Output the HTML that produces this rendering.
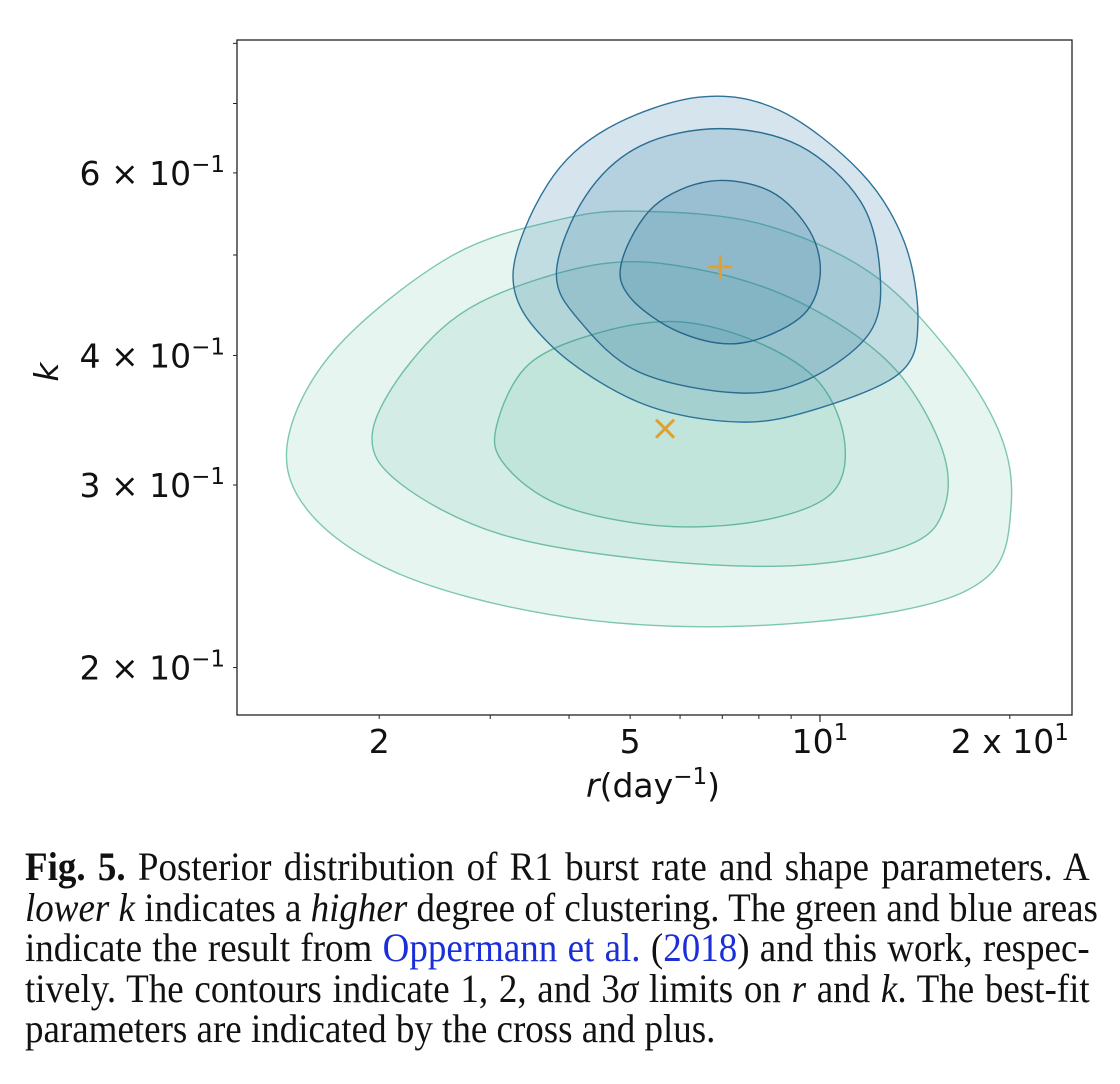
<!DOCTYPE html>
<html><head><meta charset="utf-8">
<style>
body{margin:0;background:#fff;width:1120px;height:1084px;overflow:hidden;}
#cap{position:absolute;left:25px;top:847px;width:1151px;font-family:"Liberation Serif",serif;font-size:40px;line-height:40.6px;color:#111;transform:scaleX(0.925);transform-origin:0 0;}
#cap div{text-align:justify;text-align-last:justify;white-space:nowrap;}
#cap div.last{text-align-last:left;}
.lnk{color:#1a2fd8;}
</style></head><body>
<svg id="chart" width="1120" height="815" style="position:absolute;left:0;top:0" font-family="DejaVu Sans, Liberation Sans, sans-serif"></svg>
<div id="cap">
<div><b>Fig. 5.</b> Posterior distribution of R1 burst rate and shape parameters. A</div>
<div><i>lower k</i> indicates a <i>higher</i> degree of clustering. The green and blue areas</div>
<div>indicate the result from <span class="lnk">Oppermann et al.</span> (<span class="lnk">2018</span>) and this work, respec-</div>
<div>tively. The contours indicate 1, 2, and 3<i>σ</i> limits on <i>r</i> and <i>k</i>. The best-fit</div>
<div class="last">parameters are indicated by the cross and plus.</div>
</div>
<script>
const greenOuter=[[1.43,0.329],[1.70,0.405],[2.59,0.498],[3.87,0.541],[5.19,0.551],[8.03,0.536],[12.0,0.481],[16.1,0.402],[19.3,0.336],[20.1,0.287],[18.6,0.246],[13.4,0.227],[6.95,0.219],[3.73,0.225],[2.16,0.246],[1.56,0.281]];
const greenMid=[[1.95,0.336],[2.25,0.395],[2.89,0.450],[4.48,0.490],[6.45,0.484],[9.30,0.450],[12.9,0.393],[15.5,0.329],[15.8,0.287],[13.9,0.263],[9.30,0.251],[5.38,0.254],[3.11,0.269],[2.16,0.301]];
const greenInner=[[3.07,0.342],[3.45,0.392],[4.48,0.421],[6.00,0.431],[8.03,0.411],[10.0,0.376],[10.95,0.329],[10.4,0.294],[8.03,0.277],[5.57,0.274],[3.87,0.287],[3.16,0.314]];
const blueOuter=[[3.26,0.476],[3.70,0.585],[4.60,0.662],[6.45,0.710],[8.64,0.689],[11.6,0.601],[13.6,0.515],[14.3,0.431],[13.4,0.385],[10.0,0.356],[7.47,0.345],[5.19,0.360],[3.73,0.410]];
const blueMid=[[3.82,0.481],[4.25,0.570],[5.19,0.637],[6.95,0.662],[9.30,0.637],[11.6,0.563],[12.45,0.481],[12.0,0.421],[9.64,0.380],[7.47,0.368],[5.19,0.385],[4.17,0.431]];
const blueInner=[[4.85,0.493],[5.45,0.557],[6.70,0.589],[8.34,0.576],[9.64,0.527],[10.0,0.476],[9.30,0.435],[7.47,0.411],[6.00,0.421],[5.00,0.455]];
const bestPlus=[6.95,0.487];
const bestCross=[5.68,0.340];
const xMinorTicks=[2,3,4,5,6,7,8,9,20];
const xMajorTicks=[10];
const xTickLabels=[[2,"2"],[5,"5"],[10,"10^1"],[20,"2 x 10^1"]];
const yTicks=[0.2,0.3,0.4,0.5,0.6,0.7,0.8];
const yTickLabels=[[0.2,"2"],[0.3,"3"],[0.4,"4"],[0.6,"6"]];

const L=237,R=1072,T=40,B=715;
const xMin=1.19,xMax=25.1,yMin=0.180,yMax=0.806;
const X=v=>L+(Math.log10(v)-Math.log10(xMin))/(Math.log10(xMax)-Math.log10(xMin))*(R-L);
const Y=v=>B-(Math.log10(v)-Math.log10(yMin))/(Math.log10(yMax)-Math.log10(yMin))*(B-T);
const NS="http://www.w3.org/2000/svg";
const svg=document.getElementById('chart');
function mk(tag,attrs,parent){const e=document.createElementNS(NS,tag);for(const k in attrs)e.setAttribute(k,attrs[k]);(parent||svg).appendChild(e);return e;}
function smooth(pts){const p=pts.map(d=>[X(d[0]),Y(d[1])]);const n=p.length;let s=`M${p[0][0]},${p[0][1]}`;
for(let i=0;i<n;i++){const p0=p[(i-1+n)%n],p1=p[i],p2=p[(i+1)%n],p3=p[(i+2)%n];
s+=`C${p1[0]+(p2[0]-p0[0])/6},${p1[1]+(p2[1]-p0[1])/6} ${p2[0]-(p3[0]-p1[0])/6},${p2[1]-(p3[1]-p1[1])/6} ${p2[0]},${p2[1]}`;}return s+'Z';}
const contours=[[greenOuter,'green-3sigma-contour','rgba(110,195,170,0.17)','#7cc7b1'],[greenMid,'green-2sigma-contour','rgba(110,195,170,0.17)','#70bea6'],[greenInner,'green-1sigma-contour','rgba(110,195,170,0.17)','#66b89f'],
[blueOuter,'blue-3sigma-contour','rgba(50,125,165,0.2)','#2d7399'],[blueMid,'blue-2sigma-contour','rgba(50,125,165,0.2)','#2a6d92'],[blueInner,'blue-1sigma-contour','rgba(50,125,165,0.2)','#26678b']];
for(const c of contours){const e=mk('path',{d:smooth(c[0]),fill:c[2],stroke:c[3],'stroke-width':1.4});

}
const mc='#e0a033';
const px=X(bestPlus[0]),py=Y(bestPlus[1]);
const pg=mk('g',{stroke:mc,'stroke-width':3});


mk('line',{x1:px-12,y1:py,x2:px+12,y2:py},pg);mk('line',{x1:px,y1:py-12,x2:px,y2:py+12},pg);
const cx=X(bestCross[0]),cy=Y(bestCross[1]);
const cg=mk('g',{stroke:mc,'stroke-width':3});


mk('line',{x1:cx-9,y1:cy-9,x2:cx+9,y2:cy+9},cg);mk('line',{x1:cx-9,y1:cy+9,x2:cx+9,y2:cy-9},cg);
const frame=mk('rect',{x:L,y:T,width:R-L,height:B-T,fill:'none',stroke:'#222','stroke-width':1.3});


for(const t of xMinorTicks){const e=mk('line',{x1:X(t),x2:X(t),y1:B,y2:B+4,stroke:'#222','stroke-width':1});

}
for(const t of xMajorTicks){const e=mk('line',{x1:X(t),x2:X(t),y1:B,y2:B+7,stroke:'#222','stroke-width':1.2});

}
for(const t of yTicks){const e=mk('line',{x1:L-4,x2:L,y1:Y(t),y2:Y(t),stroke:'#222','stroke-width':1});

}
for(const [v,s] of xTickLabels){const t=mk('text',{x:X(v),y:B+38,'text-anchor':'middle','font-size':33,fill:'#111'});


if(s.includes('^')){const [a,b]=s.split('^');t.textContent=a;const sp=mk('tspan',{dy:-13,'font-size':23},t);sp.textContent=b;}else t.textContent=s;}
for(const [v,s] of yTickLabels){const t=mk('text',{x:225,y:Y(v)+12,'text-anchor':'end','font-size':33,fill:'#111'});


t.textContent=s+' × 10';const sp=mk('tspan',{dy:-13,'font-size':23},t);sp.textContent='−1';}
const xl=mk('text',{x:653,y:797,'text-anchor':'middle','font-size':33,fill:'#111'});


const i1=mk('tspan',{'font-style':'italic'},xl);i1.textContent='r';
const i2=mk('tspan',{},xl);i2.textContent='(day';
const i3=mk('tspan',{dy:-13,'font-size':23},xl);i3.textContent='−1';
const i4=mk('tspan',{dy:13},xl);i4.textContent=')';
const yl=mk('text',{x:0,y:0,'font-size':33,'font-style':'italic',fill:'#111',transform:'translate(58,372) rotate(-90)','text-anchor':'middle'});


yl.textContent='k';
</script>
</body></html>
